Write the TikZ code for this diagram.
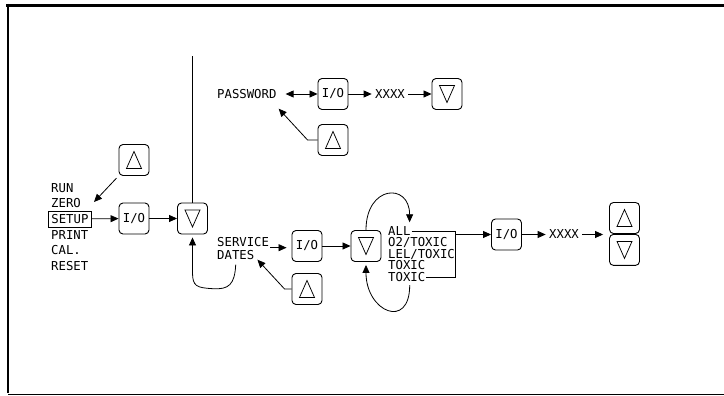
\documentclass[tikz,border=0pt]{standalone}
\usepackage{fontspec}
\newfontfamily\plotfont{DejaVu Sans Mono}
\usetikzlibrary{calc, arrows.meta, positioning}

\begin{document}
\begin{tikzpicture}[x=1pt, y=1pt,
  >={Triangle[length=8pt, width=7pt]},
  every node/.style={font=\plotfont\fontsize{12.3}{14}\selectfont},
  lbl/.style={anchor=west, inner sep=1pt, text height=9pt, text depth=0pt},
  key/.style={draw, line width=0.9pt, rounded corners=4pt,
              minimum width=30pt, minimum height=31pt, inner sep=0pt},
  upkey/.style={key, path picture={\draw[line width=0.75pt, sharp corners]
      ([shift={(-7.5pt,-8.5pt)}]path picture bounding box.center)
      -- ++(15pt,0pt) -- ++(-7.5pt,17pt) -- cycle;}},
  dnkey/.style={key, path picture={\draw[line width=0.75pt, sharp corners]
      ([shift={(-7.5pt,8.5pt)}]path picture bounding box.center)
      -- ++(15pt,0pt) -- ++(-7.5pt,-17pt) -- cycle;}},
  arr/.style={->, line width=0.8pt},
  dbl/.style={<->, line width=0.8pt}
]
\useasboundingbox (0,0) rectangle (724,396);
% frame
\draw[line width=2.7pt] (6,390.7) -- (724,390.7);
\draw[line width=2.7pt] (8,392) -- (8,3);
\draw[line width=1pt] (8,1.5) -- (724,1.5);

% main menu
\node[lbl] (m1) at (50,208) {RUN};
\node[lbl] (m2) at (50,193) {ZERO};
\node[lbl, draw, line width=0.8pt, inner xsep=3pt, inner ysep=3.5pt] (m3) at (48,177) {SETUP};
\node[lbl] (m4) at (50,161) {PRINT};
\node[lbl] (m5) at (50,146) {CAL.};
\node[lbl] (m6) at (50,130) {RESET};
\node[upkey] (up1) at (134,236) {};
\node[key] (io1) at (134,177.5) {I/O};
\node[dnkey] (dn1) at (192.5,177.5) {};
\coordinate (zt) at ($(m2.east)+(12,1)$);
\coordinate (top) at (192.5,340);
\draw[arr, shorten <=3pt] (up1.south west) -- (zt);
\draw[arr] (m3) -- (io1);
\draw[arr] (io1) -- (dn1);
\draw[line width=0.8pt] (dn1.north) -- (top);

% password
\node[lbl] (pw) at (216,302) {PASSWORD};
\node[key] (io2) at (333,302) {I/O};
\node (x1) at (390,302) {XXXX};
\node[dnkey] (dn2) at (447,302) {};
\node[upkey] (up2) at (333,256) {};
\coordinate (pwtip) at ($(pw.south east)+(1,-9)$);
\draw[dbl, shorten <=8pt] (pw) -- (io2);
\draw[arr] (io2) -- (x1);
\draw[arr] (x1) -- (dn2);
\draw[arr] (up2.west) -- ++(-10,0) -- (pwtip);

% service dates
\node[lbl] (serv) at (216,154) {SERVICE};
\node[lbl] (dates) at (216,141) {DATES};
\node[key] (io3) at (307,150) {I/O};
\node[dnkey] (dn3) at (366,150) {};
\node[upkey] (up3) at (307,107) {};
\coordinate (dtip) at ($(dates.south east)+(2,1)$);
\coordinate (dbot) at ($(dates.south)+(0,-4)$);
\draw[arr, shorten >=5pt] (serv.south east) -- (serv.south east -| io3.west);
\draw[arr] (io3) -- (dn3);
\draw[arr] (up3.west) -- ++(-7,0) -- (dtip);
\draw[arr, shorten >=3pt] (dbot) .. controls +(-1,-20) and +(16,-1) .. ++(-23,-24)
  .. controls +(-16,1) and +(0,-14) .. ($(dn1.south)+(0,-38)$) -- (dn1.south);

% sensor list
\node[lbl] (all) at (387,165) {ALL};
\node[lbl] (o2) at (387,153.5) {O2/TOXIC};
\node[lbl] (lel) at (387,142) {LEL/TOXIC};
\node[lbl] (t4) at (387,130.5) {TOXIC};
\node[lbl] (t5) at (387,119) {TOXIC};
\coordinate (alltip) at ($(all.north east)+(-2,3)$);
\coordinate (t5bot) at ($(t5.south)+(3,-2.5)$);
\draw[arr] (dn3.north) .. controls +(0,45) and +(0,40) .. (alltip);
\draw[arr, shorten >=3pt] (t5bot) .. controls +(0,-45) and +(0,-50) .. (dn3.south);
\draw[line width=0.8pt] (all.east) -- ++(44,0) coordinate (brk) |- (t5.east);

% final step
\node[key] (io4) at (506.5,161.5) {I/O};
\node (x2) at (564,161.5) {XXXX};
\node[upkey] (up4) at (624.5,178) {};
\node[dnkey, below=0pt of up4] (dn4) {};
\draw[arr] (brk |- io4.west) -- (io4.west);
\draw[arr] (io4) -- (x2);
\draw[arr, shorten >=6pt] (x2) -- (x2 -| up4.west);
\end{tikzpicture}
\end{document}
